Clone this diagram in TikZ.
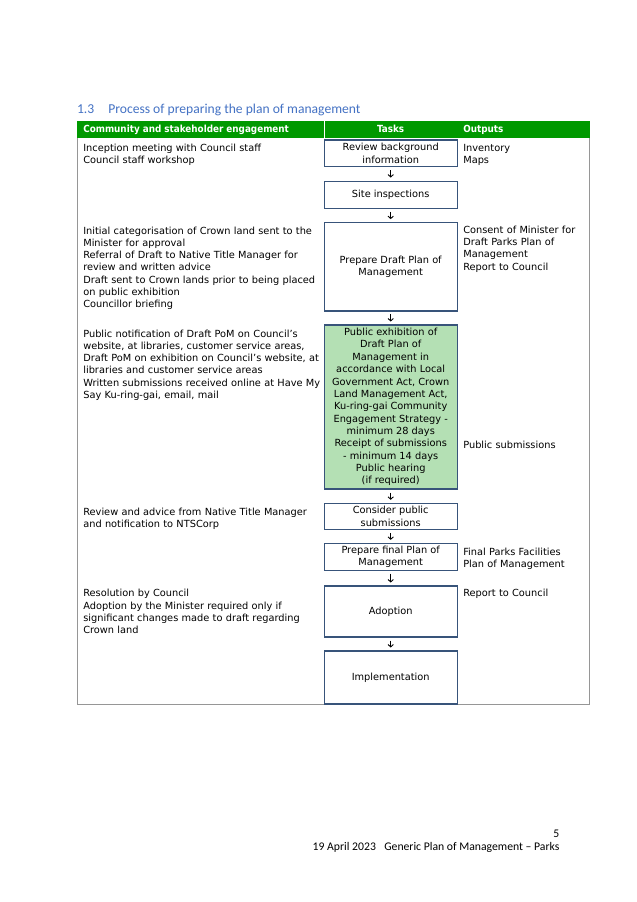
\documentclass[tikz,border=0pt]{standalone}
\usepackage{fontspec}
\setmainfont{DejaVu Sans}
\newfontfamily\condfont{DejaVu Sans Condensed}
\newfontfamily\calibfont{Carlito}
\usetikzlibrary{arrows.meta}
\definecolor{hdgreen}{RGB}{0,153,0}
\definecolor{boxblue}{RGB}{56,84,122}
\definecolor{fillgreen}{RGB}{180,224,180}
\definecolor{headblue}{RGB}{68,114,196}
\definecolor{rulegrey}{RGB}{150,150,150}
\definecolor{txt}{RGB}{0,0,0}
\begin{document}
\begin{tikzpicture}[x=1pt,y=-1pt,
  every node/.style={inner sep=0pt,outer sep=0pt},
  bodytext/.style={font=\fontsize{9.8}{12.2}\selectfont, text width=240pt, align=left, anchor=base west, text=txt},
  outtext/.style={bodytext, text width=124pt},
  headtext/.style={font=\condfont\bfseries\fontsize{9.8}{12}\selectfont, text=white, anchor=base west},
  taskbox/.style={draw=boxblue, line width=1.1pt, minimum width=133.3pt, align=center, font=\fontsize{9.8}{12.2}\selectfont, text=txt},
  flow/.style={draw=txt, line width=0.9pt, -{Straight Barb[length=2.4pt,width=5.4pt,line width=0.9pt]}, shorten <=3.5pt, shorten >=3.5pt},
  titletext/.style={font=\calibfont\fontsize{13.6}{15}\selectfont, text=headblue, anchor=base west},
  foottext/.style={font=\calibfont\fontsize{11.7}{13}\selectfont, text=txt, anchor=base west}
]
\fill[white] (0,0) rectangle (637,902);
\useasboundingbox (0,0) rectangle (637,902);

% title
\node[titletext] (tnum) at (77,113.3) {1.3};
\node[titletext] (ttl) at (108.3,113.3) {Process of preparing the plan of management};

% header
\node[fill=hdgreen, minimum width=513pt, minimum height=17pt, anchor=north west] (hdr) at (77,121) {};
\draw[white, line width=0.6pt] (324,121) -- (324,138);
\node[headtext] (h1) at (83.3,132.3) {Community and stakeholder engagement};
\node[headtext, anchor=base] (h2) at (390.7,132.3) {Tasks};
\node[headtext] (h3) at (463.3,132.3) {Outputs};

% table frame
\draw[rulegrey, line width=1pt] (77.5,138) -- (77.5,704) -- (589.5,704) -- (589.5,138);

% task boxes
\node[taskbox, minimum height=26.7pt] (b1) at (390.7,153.3) {Review background\\information};
\node[taskbox, minimum height=27.3pt] (b2) at (390.7,194.7) {Site inspections};
\node[taskbox, minimum height=88.3pt] (b3) at (390.7,266.8) {Prepare Draft Plan of\\Management};
\node[taskbox, minimum height=164pt, fill=fillgreen, font=\fontsize{9.8}{12.35}\selectfont] (b4) at (390.7,407) {Public exhibition of\\Draft Plan of\\Management in\\accordance with Local\\Government Act, Crown\\Land Management Act,\\Ku-ring-gai Community\\Engagement Strategy -\\minimum 28 days\\Receipt of submissions\\- minimum 14 days\\Public hearing\\(if required)};
\node[taskbox, minimum height=26pt] (b5) at (390.7,516.3) {Consider public\\submissions};
\node[taskbox, minimum height=26.7pt] (b6) at (390.7,556.7) {Prepare final Plan of\\Management};
\node[taskbox, minimum height=51pt] (b7) at (390.7,611.5) {Adoption};
\node[taskbox, minimum height=53pt] (b8) at (390.7,677.5) {Implementation};

% arrows
\draw[flow] (b1) -- (b2);
\draw[flow] (b2) -- (b3);
\draw[flow] (b3) -- (b4);
\draw[flow] (b4) -- (b5);
\draw[flow] (b5) -- (b6);
\draw[flow] (b6) -- (b7);
\draw[flow] (b7) -- (b8);

% community column
\node[bodytext] (c1) at (83.3,151.6) {Inception meeting with Council staff\\Council staff workshop};
\node[bodytext] (c2) at (83.3,234.3) {Initial categorisation of Crown land sent to the\\Minister for approval\\Referral of Draft to Native Title Manager for\\review and written advice\\Draft sent to Crown lands prior to being placed\\on public exhibition\\Councillor briefing};
\node[bodytext] (c3) at (83.3,337.3) {Public notification of Draft PoM on Council’s\\website, at libraries, customer service areas,\\Draft PoM on exhibition on Council’s website, at\\libraries and customer service areas\\Written submissions received online at Have My\\Say Ku-ring-gai, email, mail};
\node[bodytext] (c4) at (83.3,515) {Review and advice from Native Title Manager\\and notification to NTSCorp};
\node[bodytext] (c5) at (83.3,596.8) {Resolution by Council\\Adoption by the Minister required only if\\significant changes made to draft regarding\\Crown land};

% outputs column
\node[outtext] (o1) at (463.3,151.6) {Inventory\\Maps};
\node[outtext] (o2) at (463.3,233.5) {Consent of Minister for\\Draft Parks Plan of\\Management\\Report to Council};
\node[outtext] (o3) at (463.3,448.3) {Public submissions};
\node[outtext] (o4) at (463.3,555) {Final Parks Facilities\\Plan of Management};
\node[outtext] (o5) at (463.3,596.7) {Report to Council};

% footer
\node[foottext, anchor=base east] (pg) at (559.3,837.3) {5};
\node[foottext] (f1) at (312.7,850.7) {19 April 2023};
\node[foottext] (f2) at (384.3,850.7) {Generic Plan of Management – Parks};
\end{tikzpicture}
\end{document}
